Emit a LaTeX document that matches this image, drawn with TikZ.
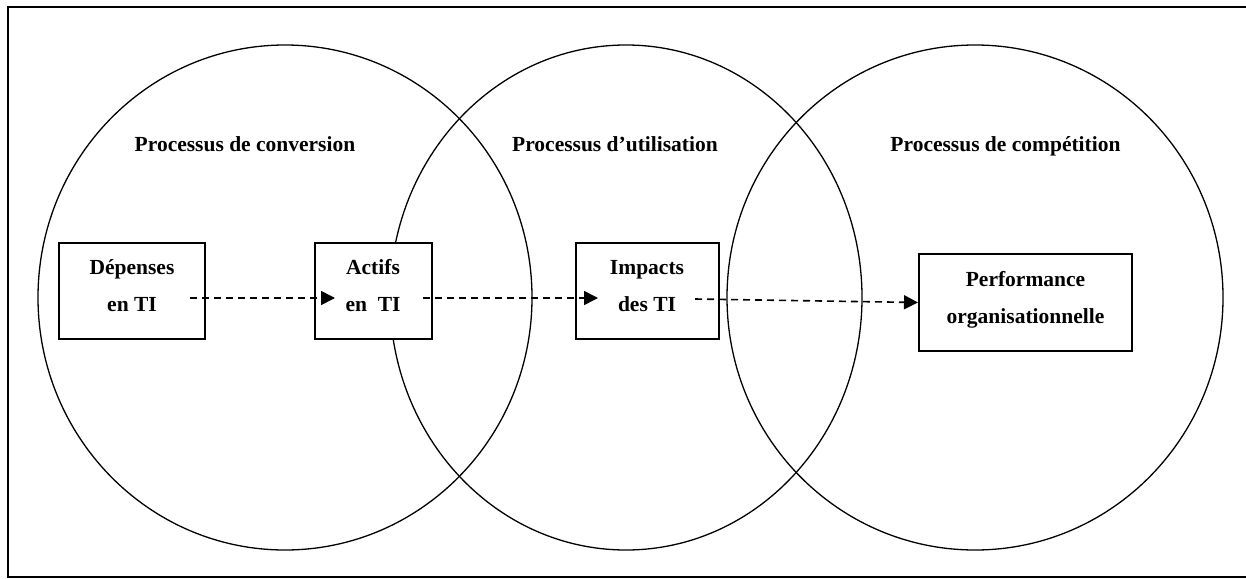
\documentclass[tikz,border=0pt]{standalone}
\usepackage{fontspec}
\setmainfont{Liberation Serif}
\usetikzlibrary{arrows.meta}
\newcommand\creux{\rule[-11pt]{0pt}{0pt}}

\begin{document}
\begin{tikzpicture}[x=1pt,y=-1pt,>={Triangle[length=14pt,width=14pt]},
                    font=\bfseries\fontsize{21.5}{37}\selectfont]
  \tikzstyle{bloc}=[draw,line width=2pt,fill=white,align=center,inner sep=0pt,
                    minimum height=96pt]
  \tikzstyle{flux}=[->,line width=1.6pt,dash pattern=on 7pt off 5pt]
  \tikzstyle{cercle}=[line width=1.3pt]

  \useasboundingbox (0,0) rectangle (1246,578);
  \draw[line width=2pt] (8,7) rectangle (1252,577);

  % les trois processus
  \draw[cercle] (285,297.5) ellipse [x radius=247pt,y radius=252.5pt];
  \draw[cercle] (626,297.5) ellipse [x radius=236pt,y radius=252.5pt];
  \draw[cercle] (975,297.5) ellipse [x radius=248pt,y radius=252.5pt];

  \node[anchor=base] (conv) at (245,151)    {Processus de conversion};
  \node[anchor=base] (util) at (615,151)    {Processus d’utilisation};
  \node[anchor=base] (comp) at (1005.5,151) {Processus de compétition};

  \node[bloc,minimum width=146pt] (dep)  at (132,291)    {Dépenses\\en TI\creux};
  \node[bloc,minimum width=117pt] (act)  at (373,291)    {Actifs\\en~ TI\creux};
  \node[bloc,minimum width=143pt] (imp)  at (647,291)    {Impacts\\des TI\creux};
  \node[bloc,minimum width=213pt,minimum height=97pt]
                                  (perf) at (1025.5,302.5) {Performance\\organisationnelle\creux};

  \draw[flux] ([xshift=-16pt,yshift=-7pt]dep.east) -- ([xshift=21.5pt,yshift=-7pt]act.west);
  \draw[flux] ([xshift=-9.5pt,yshift=-7pt]act.east) -- ([xshift=23.5pt,yshift=-7pt]imp.west);
  \draw[flux] ([xshift=-24.5pt,yshift=-8pt]imp.east) -- (perf.west);
\end{tikzpicture}
\end{document}
